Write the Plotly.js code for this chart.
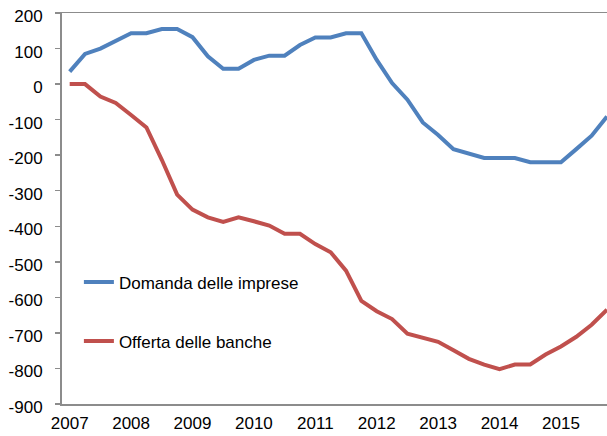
<!DOCTYPE html>
<html>
<head>
<meta charset="utf-8">
<script src="https://cdn.plot.ly/plotly-3.0.1.min.js"></script>
<style>html,body{margin:0;padding:0;background:#fff;}#chart{width:607px;height:436px;}</style>
</head>
<body>
<div id="chart"></div>
<script>
// Quarterly observations, 2007 Q1 onwards
var years = ['2007','2008','2009','2010','2011','2012','2013','2014','2015'];
var yTicks = [200, 100, 0, -100, -200, -300, -400, -500, -600, -700, -800, -900];
var seriesNames = ['Domanda delle imprese', 'Offerta delle banche'];
var domanda = [35, 85, 100, 120, 143, 143, 155, 155, 132, 78, 43, 43, 68, 80, 80, 110,
               131, 131, 143, 143, 68, 3, -44, -108, -143, -183, -196, -208, -208, -208,
               -220, -220, -220, -183, -145, -91];
var offerta = [0, 0, -35, -53, -87, -122, -213, -311, -353, -375, -388, -375, -386, -398, -421, -421,
               -450, -473, -525, -610, -639, -661, -702, -714, -725, -749, -773, -789, -802, -789,
               -789, -761, -738, -711, -677, -635];
var colors = ['#4F81BD', '#C0504D'];
var perYear = 4;

var idx = domanda.map(function(_, i){ return i; });
var labelPos = years.map(function(_, i){ return i * perYear; });
var tickPos = years.slice(1).map(function(_, i){ return (i + 1) * perYear - 0.5; });
var xr = [-0.5, domanda.length - 1];
var yr = [Math.min.apply(null, yTicks), Math.max.apply(null, yTicks)];

var font = {family: 'Liberation Sans, Arial, sans-serif', size: 17, color: '#000'};
var grey = '#8C8C8C';

var traces = [
  {x: idx, y: domanda, name: seriesNames[0], type: 'scatter', mode: 'lines',
   line: {color: colors[0], width: 4}, legendgroup: 'a'},
  {x: idx, y: offerta, name: seriesNames[1], type: 'scatter', mode: 'lines',
   line: {color: colors[1], width: 4}, legendgroup: 'b'}
];

var layout = {
  width: 607, height: 436,
  margin: {l: 62, r: 0, t: 13, b: 32},
  paper_bgcolor: '#fff', plot_bgcolor: '#fff',
  font: font,
  showlegend: true,
  legend: {x: 0.031, y: 0.357, xanchor: 'left', yanchor: 'top', bgcolor: 'rgba(0,0,0,0)',
           font: font, tracegroupgap: 34, traceorder: 'grouped'},
  xaxis: {range: xr, tickmode: 'array', tickvals: labelPos, ticktext: years,
          ticks: '', showgrid: false, zeroline: false, showline: true, mirror: true,
          linecolor: grey, linewidth: 1.5, tickfont: font, ticklabelstandoff: 3},
  xaxis2: {overlaying: 'x', anchor: 'free', position: -yr[0] / (yr[1] - yr[0]), range: xr,
           tickmode: 'array', tickvals: tickPos, ticks: 'outside', ticklen: 5,
           tickwidth: 1.5, tickcolor: grey, showticklabels: false, showgrid: false,
           zeroline: false, showline: true, linecolor: grey, linewidth: 2},
  yaxis: {range: yr, tickmode: 'array', tickvals: yTicks,
          ticktext: yTicks.map(function(v){ return String(v); }),
          ticks: 'outside', ticklen: 5,
          tickwidth: 1.5, tickcolor: grey, showgrid: false, zeroline: false,
          showline: true, linecolor: grey, linewidth: 2, tickfont: font,
          ticklabelstandoff: 9, ticklabelshift: 3}
};

Plotly.newPlot('chart', traces, layout, {displayModeBar: false, staticPlot: true});
</script>
</body>
</html>
